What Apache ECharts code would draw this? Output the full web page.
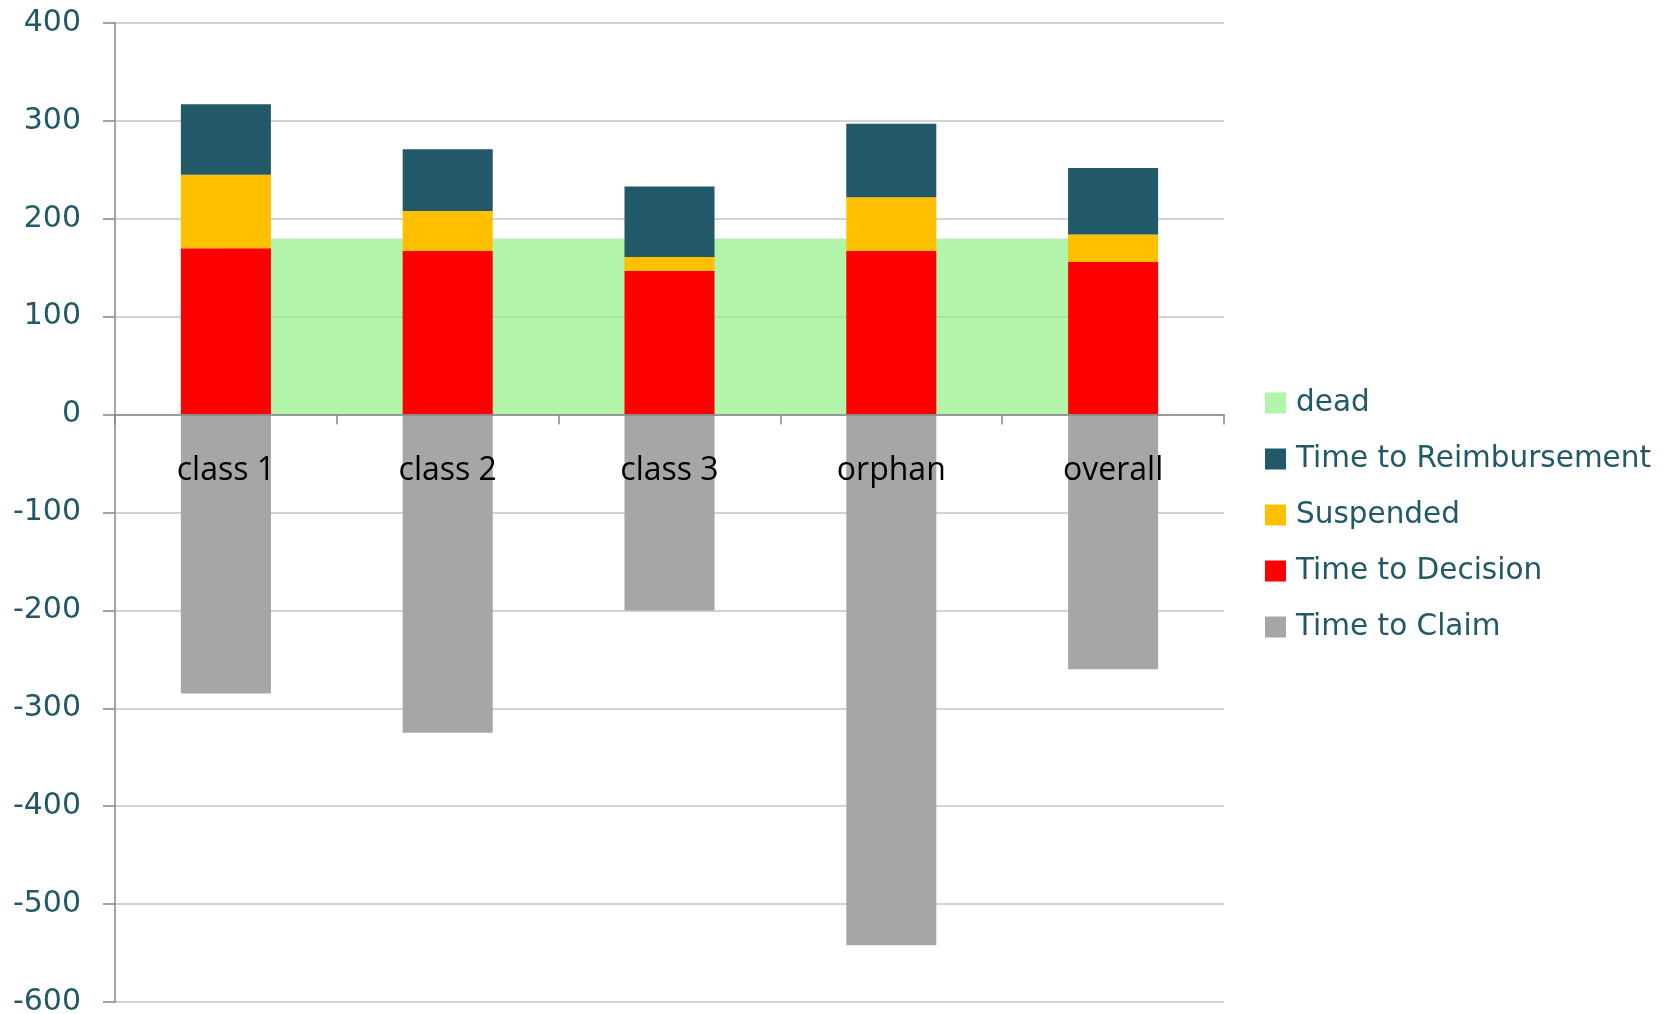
<!DOCTYPE html>
<html>
<head>
<meta charset="utf-8">
<script src="https://cdn.jsdelivr.net/npm/echarts@6/dist/echarts.min.js"></script>
<style>
html,body{margin:0;padding:0;background:#fff;}
#chart{width:1671px;height:1014px;}
</style>
</head>
<body>
<div id="chart"></div>
<script>
const categories = ['class 1', 'class 2', 'class 3', 'orphan', 'overall'];
const dead = [180, 180, 180, 180, 180];
const timeToDecision = [170, 167, 147, 167, 156];
const suspended = [75, 41, 14, 55, 28];
const timeToReimbursement = [72, 63, 72, 75, 68];
const timeToClaim = [-285, -325, -200, -542, -260];
const legendOrder = ['dead', 'Time to Reimbursement', 'Suspended', 'Time to Decision', 'Time to Claim'];

const chart = echarts.init(document.getElementById('chart'), null, {renderer: 'canvas'});
const axisGrey = '#878787';
const tealText = '#215968';
const barW = '40.6%';
const gridTop = 23, gridBottom = 12, H = 1014;
const yMin = -600, yMax = 400;
const zeroFromBottom = (H - gridTop - gridBottom) * (0 - yMin) / (yMax - yMin);

chart.setOption({
  animation: false,
  backgroundColor: '#ffffff',
  grid: {left: 115, right: 447, top: gridTop, bottom: gridBottom, containLabel: false, outerBoundsMode: 'none'},
  legend: {
    orient: 'vertical',
    left: 1260,
    top: 383,
    icon: 'rect',
    itemWidth: 21,
    itemHeight: 21,
    itemGap: 26,
    selectedMode: false,
    data: legendOrder,
    textStyle: {fontFamily: 'DejaVu Sans', fontSize: 29.5, lineHeight: 29, color: tealText, padding: [0, 0, 0, 5]}
  },
  xAxis: {
    type: 'category',
    data: categories,
    boundaryGap: true,
    z: 10,
    offset: -zeroFromBottom,
    axisLine: {onZero: false, lineStyle: {color: axisGrey, width: 1.5}},
    axisTick: {show: true, length: 10, lineStyle: {color: axisGrey, width: 1.5}},
    axisLabel: {margin: 40, color: '#000000', fontFamily: 'Open Sans', fontSize: 32},
    splitLine: {show: false}
  },
  yAxis: {
    type: 'value',
    min: yMin,
    max: yMax,
    interval: 100,
    axisLine: {show: true, lineStyle: {color: axisGrey, width: 1.5}},
    axisTick: {show: true, length: 12, lineStyle: {color: axisGrey, width: 1.5}},
    axisLabel: {margin: 34, color: tealText, fontFamily: 'DejaVu Sans', fontSize: 30},
    splitLine: {show: true, lineStyle: {color: '#c4c4c4', width: 1.5}}
  },
  series: [
    {
      name: 'dead', type: 'line', data: dead, z: 1,
      symbol: 'none', color: '#b2f5aa',
      lineStyle: {width: 0},
      areaStyle: {color: 'rgba(145,241,134,0.7)', opacity: 1}
    },
    {name: 'Time to Decision', type: 'bar', stack: 'a', data: timeToDecision, barWidth: barW, color: '#ff0000'},
    {name: 'Suspended', type: 'bar', stack: 'a', data: suspended, barWidth: barW, color: '#ffc000'},
    {name: 'Time to Reimbursement', type: 'bar', stack: 'a', data: timeToReimbursement, barWidth: barW, color: '#225968'},
    {name: 'Time to Claim', type: 'bar', stack: 'a', data: timeToClaim, barWidth: barW, color: '#a6a6a6'}
  ]
});
</script>
</body>
</html>
